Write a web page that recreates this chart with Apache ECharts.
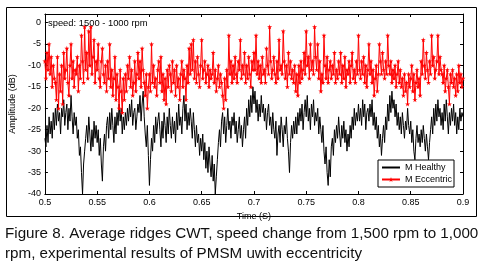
<!DOCTYPE html>
<html><head><meta charset="utf-8">
<script src="https://cdn.jsdelivr.net/npm/echarts@6/dist/echarts.min.js"></script>
<style>html,body{margin:0;padding:0;background:#fff}#c{width:484px;height:269px}</style>
</head><body><div id="c"></div>
<script>
// Time axis of samples
const tStart = 0.5;
const healthyStep = 0.001;
const eccentricStep = 0.001;
const xTicks = [0.5, 0.55, 0.6, 0.65, 0.7, 0.75, 0.8, 0.85, 0.9];
const yTicks = [0, -5, -10, -15, -20, -25, -30, -35, -40];

// M Healthy (dB), one value per 1 ms from 0.5 s to 0.9 s
const healthy = [
-27,-29,-24,-28,-22,-26,-23,-27,-21,-25,
-20,-24,-19,-23,-21,-26,-20,-22,-18,-24,
-21,-19,-25,-20,-23,-17,-22,-26,-21,-24,
-22,-27,-25,-31,-29,-35,-40,-33,-30,-27,
-24,-28,-22,-26,-30,-25,-29,-23,-27,-24,
-28,-25,-31,-27,-33,-37,-29,-26,-30,-24,
-22,-27,-21,-25,-20,-24,-28,-22,-26,-21,
-24,-19,-23,-20,-26,-22,-25,-21,-24,-20,
-23,-19,-22,-18,-24,-21,-20,-25,-22,-19,
-21,-17,-23,-19,-16,-22,-26,-29,-24,-31,
-38,-32,-27,-30,-24,-28,-22,-26,-23,-21,
-25,-29,-23,-27,-21,-24,-28,-22,-26,-20,
-24,-27,-22,-26,-23,-28,-21,-25,-19,-24,
-22,-26,-20,-17,-23,-19,-25,-21,-24,-20,
-23,-27,-21,-25,-29,-24,-28,-26,-31,-27,
-30,-26,-32,-28,-34,-30,-35,-29,-33,-36,
-31,-37,-33,-40,-36,-32,-28,-25,-29,-23,
-21,-26,-22,-28,-24,-20,-25,-23,-27,-22,
-24,-21,-26,-23,-28,-25,-22,-27,-24,-29,
-25,-22,-27,-20,-24,-18,-22,-17,-21,-15,
-19,-16,-21,-18,-23,-19,-22,-17,-21,-19,
-23,-20,-25,-21,-19,-24,-22,-26,-21,-25,
-27,-23,-31,-26,-24,-28,-22,-25,-29,-24,
-26,-22,-27,-30,-35,-28,-24,-27,-23,-26,
-22,-26,-21,-24,-20,-23,-19,-25,-21,-18,
-22,-17,-23,-20,-25,-19,-22,-18,-24,-21,
-23,-20,-26,-22,-25,-28,-24,-30,-33,-29,
-35,-38,-32,-36,-29,-27,-31,-25,-28,-24,
-27,-22,-26,-29,-24,-27,-23,-28,-25,-30,
-26,-29,-24,-27,-22,-25,-20,-24,-21,-23,
-19,-23,-20,-24,-18,-22,-19,-25,-21,-20,
-23,-19,-22,-18,-24,-21,-25,-22,-27,-24,
-29,-26,-31,-27,-24,-28,-22,-25,-19,-23,
-17,-21,-16,-20,-18,-22,-19,-24,-21,-25,
-22,-26,-21,-24,-27,-23,-25,-20,-24,-26,
-23,-28,-25,-30,-32,-27,-24,-28,-26,-29,
-25,-28,-24,-27,-30,-26,-29,-32,-28,-25,
-22,-26,-20,-24,-19,-23,-18,-22,-20,-24,
-21,-25,-19,-23,-18,-22,-26,-21,-24,-20,
-23,-19,-24,-21,-26,-22,-25,-20,-23,-21,
-22
];

// M Eccentric (dB), one value per 1 ms from 0.5 s to 0.9 s
const eccentric = [
-9,-13,-7,-11,-5,-12,-8,-15,-10,-13,
-14,-18,-8,-20,-12,-16,-10,-19,-7,-13,
-11,-6,-14,-17,-10,-5,-13,-9,-15,-11,
-12,-8,-16,-10,-13,-3,-9,-14,-1,-11,
-7,-13,-2,-10,-1,-12,-8,-4,-14,-9,
-11,-5,-13,-15,-9,-6,-12,-14,-10,-16,
-9,-13,-5,-15,-11,-17,-13,-8,-18,-12,
-15,-20,-11,-16,-21,-13,-18,-12,-16,-10,
-13,-8,-15,-11,-17,-14,-9,-16,-12,-7,
-13,-9,-15,-6,-11,-14,-17,-12,-20,-15,
-12,-16,-5,-14,-10,-15,-13,-17,-11,-9,
-14,-8,-16,-12,-18,-13,-19,-11,-15,-10,
-12,-16,-9,-14,-11,-17,-10,-15,-13,-18,
-12,-9,-15,-11,-13,-18,-10,-14,-6,-12,
-5,-11,-4,-13,-9,-14,-8,-12,-15,-10,
-4,-13,-11,-9,-14,-12,-10,-15,-11,-13,
-12,-7,-14,-11,-16,-13,-10,-15,-12,-14,
-17,-20,-13,-18,-11,-15,-3,-12,-9,-14,
-10,-13,-8,-12,-14,-9,-11,-4,-13,-10,
-12,-7,-14,-10,-13,-8,-12,-15,-9,-11,
-7,-11,-3,-12,-9,-13,-10,-14,-8,-12,
-11,-14,-6,-10,-12,-1,-9,-13,-11,-8,
-12,-14,-9,-13,-4,-11,-10,-12,-2,-9,
-13,-10,-15,-7,-12,-9,-13,-11,-14,-10,
-16,-12,-17,-10,-14,-9,-13,-11,-7,-12,
-2,-10,-8,-13,-5,-11,-9,-12,-1,-8,
-11,-5,-13,-9,-16,-12,-14,-3,-10,-13,
-8,-14,-11,-9,-13,-10,-12,-7,-14,-11,
-13,-9,-12,-7,-14,-10,-13,-8,-15,-11,
-12,-9,-14,-10,-7,-13,-11,-14,-9,-12,
-3,-11,-13,-9,-12,-8,-14,-10,-15,-11,
-5,-12,-9,-14,-11,-17,-13,-10,-16,-12,
-5,-9,-12,-7,-11,-13,-9,-12,-3,-10,
-12,-9,-14,-11,-13,-10,-15,-12,-9,-14,
-11,-15,-13,-17,-12,-16,-14,-19,-12,-15,
-13,-10,-16,-12,-18,-14,-11,-15,-13,-17,
-9,-12,-4,-10,-13,-7,-11,-14,-9,-12,
-3,-10,-8,-13,-11,-9,-3,-12,-8,-11,
-12,-14,-10,-16,-13,-11,-15,-19,-12,-14,
-11,-15,-13,-17,-12,-16,-10,-14,-12,-15,
-13
];

const seriesNames = ['M Healthy', 'M Eccentric'];
const titleText = 'speed: 1500 - 1000 rpm';
const xName = 'Time (S)';
const yName = 'Amplitude (dB)';
const caption1 = 'Figure 8. Average ridges CWT, speed change from 1,500 rpm to 1,000';
const caption2 = 'rpm, experimental results of PMSM uwith eccentricity';

function pairs(vals, step) {
  return vals.map((v, i) => [+(tStart + i * step).toFixed(4), v]);
}

const star = 'path://M50,0 L61,35 L98,35 L68,57 L79,91 L50,70 L21,91 L32,57 L2,35 L39,35 Z';
const FONT = 'Liberation Sans';

const chart = echarts.init(document.getElementById('c'), null, {renderer: 'canvas'});
const axLabel = {color: '#000', fontSize: 9, fontFamily: FONT};
chart.setOption({
  animation: false,
  grid: {left: 38, top: 14, width: 425, height: 180, show: false},
  xAxis: [{
    type: 'value', min: 0.5, max: 0.9, interval: 0.05,
    name: xName, nameLocation: 'middle', nameGap: 15,
    nameTextStyle: {color: '#000', fontSize: 9, fontFamily: FONT},
    axisLine: {show: true, onZero: false, lineStyle: {color: '#000', width: 1}},
    axisTick: {show: true, inside: true, length: 3, lineStyle: {color: '#000'}},
    axisLabel: Object.assign({margin: 4, formatter: v => xTicks.some(t => Math.abs(t - v) < 1e-6) ? String(+v.toFixed(2)) : ''}, axLabel),
    splitLine: {show: false}
  }, {
    type: 'value', position: 'top', min: 0.5, max: 0.9, interval: 0.05,
    axisLine: {show: true, onZero: false, lineStyle: {color: '#000', width: 1}},
    axisTick: {show: true, inside: true, length: 3, lineStyle: {color: '#000'}},
    axisLabel: {show: false}, splitLine: {show: false}
  }],
  yAxis: [{
    type: 'value', min: -40, max: 2, interval: 5,
    name: yName, nameLocation: 'middle', nameGap: 24, nameRotate: 90,
    nameTextStyle: {color: '#000', fontSize: 9, fontFamily: FONT},
    axisLine: {show: true, onZero: false, lineStyle: {color: '#000', width: 1}},
    axisTick: {show: true, inside: true, length: 3, lineStyle: {color: '#000'}},
    axisLabel: Object.assign({margin: 4, showMaxLabel: false, formatter: v => yTicks.indexOf(v) >= 0 ? String(v) : ''}, axLabel),
    splitLine: {show: false}
  }, {
    type: 'value', position: 'right', min: -40, max: 2, interval: 5,
    axisLine: {show: true, onZero: false, lineStyle: {color: '#000', width: 1}},
    axisTick: {show: true, inside: true, length: 3, lineStyle: {color: '#000'}},
    axisLabel: {show: false}, splitLine: {show: false}
  }],
  legend: {
    left: 378, top: 160, orient: 'vertical', itemWidth: 18, itemHeight: 6, itemGap: 3,
    padding: [3, 2, 3, 3], borderColor: '#000', borderWidth: 1, backgroundColor: '#fff',
    textStyle: {color: '#000', fontSize: 9, fontFamily: FONT},
    data: [{name: seriesNames[0], itemStyle: {opacity: 0}}, {name: seriesNames[1]}]
  },
  series: [{
    name: seriesNames[0], type: 'line', data: pairs(healthy, healthyStep),
    showSymbol: false, symbol: 'none',
    lineStyle: {color: '#000', width: 1}, itemStyle: {color: '#000'}, z: 2
  }, {
    name: seriesNames[1], type: 'line', data: pairs(eccentric, eccentricStep),
    symbol: star, symbolSize: 5, showSymbol: true,
    lineStyle: {color: '#ff0000', width: 1}, itemStyle: {color: '#ff0000'}, z: 3
  }],
  graphic: [
    {type: 'rect', shape: {x: 6.5, y: 7.5, width: 470, height: 209}, style: {fill: 'none', stroke: '#000', lineWidth: 1}, z: 0},
    {type: 'text', left: 48, top: 19, style: {text: titleText, fill: '#000', font: '9.4px "' + FONT + '"'}, z: 10},
    {type: 'text', left: 5, top: 226, style: {text: caption1, fill: '#111', font: '15.2px "' + FONT + '"'}},
    {type: 'text', left: 5, top: 246, style: {text: caption2, fill: '#111', font: '15.2px "' + FONT + '"'}}
  ]
});
</script></body></html>
